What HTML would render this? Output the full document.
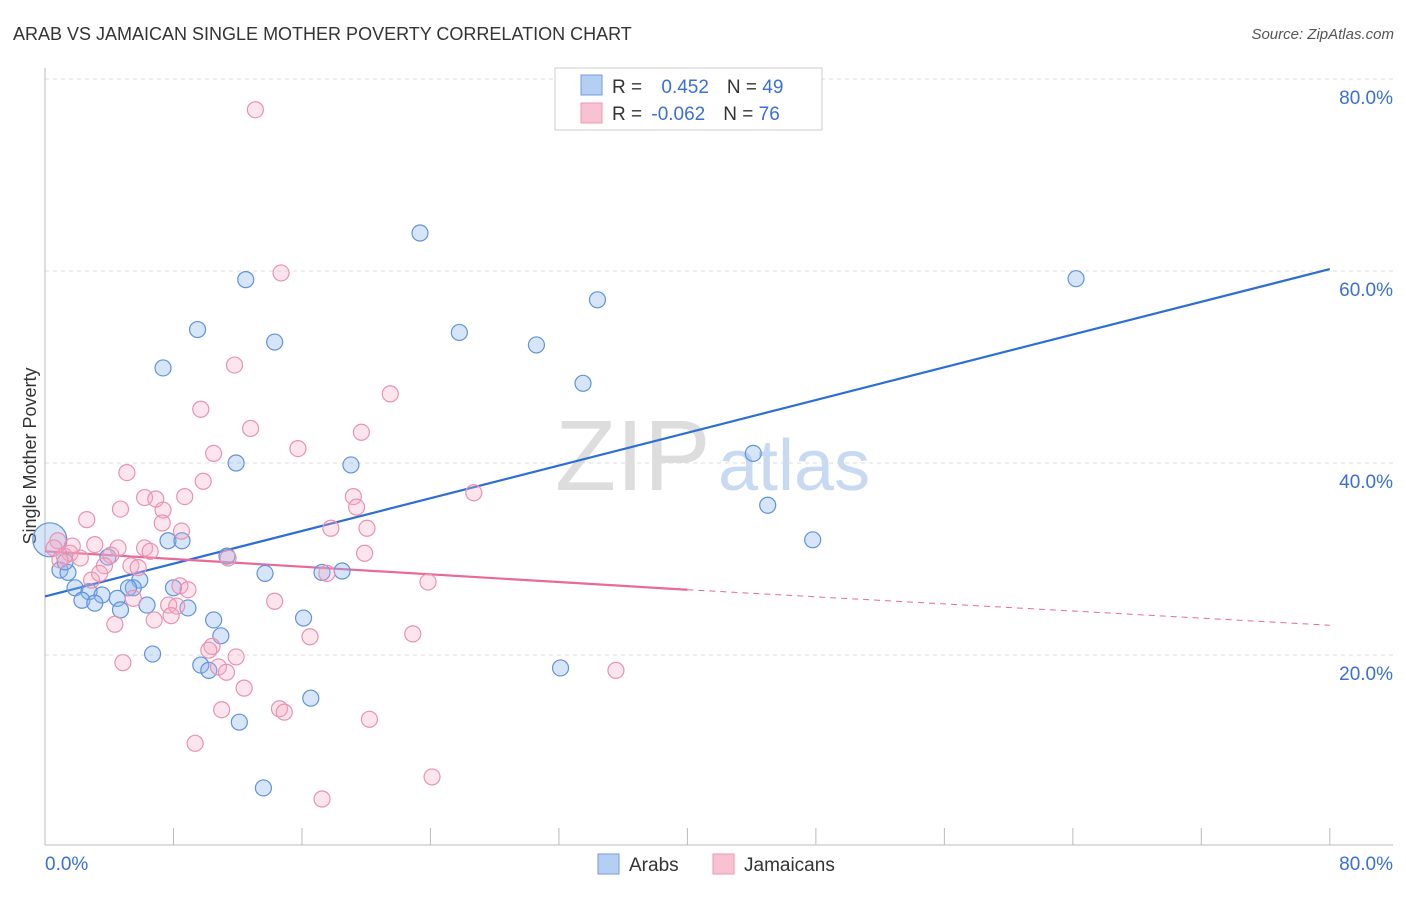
<!DOCTYPE html>
<html><head><meta charset="utf-8"><style>
body{margin:0;background:#fff;font-family:"Liberation Sans",sans-serif}
svg text{font-family:"Liberation Sans",sans-serif}
</style></head><body>
<svg id="chart" width="1406" height="892" xmlns="http://www.w3.org/2000/svg">
<text x="13" y="40" font-size="18" fill="#333">ARAB VS JAMAICAN SINGLE MOTHER POVERTY CORRELATION CHART</text>
<text x="1394" y="39" font-size="15" fill="#555" font-style="italic" text-anchor="end">Source: ZipAtlas.com</text>
<text x="36" y="456" font-size="18" fill="#333" transform="rotate(-90 36 456)" text-anchor="middle">Single Mother Poverty</text>
<g id="grid"></g>
<g id="axes"></g>
<text x="555" y="490" font-size="100" fill="#ddd" font-family="Liberation Serif">ZIP</text>
<text x="718" y="490" font-size="72" fill="#c8daf2">atlas</text>
<g id="trend"></g>
<g id="pts"></g>
<g>
<rect x="555" y="68" width="267" height="62" fill="#fff" stroke="#ccc"/>
<rect x="581" y="75" width="21" height="20" fill="#b5cff3" stroke="#6f9ee0"/>
<rect x="581" y="103" width="21" height="20" fill="#f7c3d3" stroke="#ec97b4"/>
<text x="612" y="93" font-size="19" fill="#333">R = <tspan fill="#3a70d4" dx="14">0.452</tspan><tspan dx="18">N = </tspan><tspan fill="#3a70d4">49</tspan></text>
<text x="612" y="120" font-size="19" fill="#333">R = <tspan fill="#3a70d4" dx="4">-0.062</tspan><tspan dx="18">N = </tspan><tspan fill="#3a70d4">76</tspan></text>
</g>
<g>
<rect x="598" y="854" width="21" height="20" fill="#b5cff3" stroke="#6f9ee0"/>
<text x="629" y="871" font-size="19" fill="#333">Arabs</text>
<rect x="713" y="854" width="21" height="20" fill="#f7c3d3" stroke="#ec97b4"/>
<text x="744" y="871" font-size="19" fill="#333">Jamaicans</text>
</g>
</svg>
<script>
const yTicks=[20,40,60,80];
const yTickLabels=["20.0%","40.0%","60.0%","80.0%"];
const xTickLabels=["0.0%","80.0%"];
const arabX=[23.35,64.2,12.5,34.4,9.5,25.8,14.3,30.6,7.35,33.5,44.1,11.9,19.05,45.0,47.8,7.66,8.53,11.33,3.92,13.7,17.25,18.5,5.9,8.0,5.5,5.2,1.87,2.74,3.55,2.3,3.1,4.5,6.35,8.9,4.7,16.1,10.5,10.95,6.7,32.1,9.7,10.2,16.55,12.1,13.6,0.93,1.43,0.3,1.25];
const arabY=[63.96,59.2,59.1,57.0,53.9,53.6,52.6,52.3,49.9,48.3,41.0,40.0,39.8,35.6,32.0,31.9,31.9,30.3,30.2,28.5,28.6,28.75,27.8,27.0,27.0,27.0,27.0,26.6,26.25,25.7,25.4,25.9,25.2,24.9,24.7,23.85,23.65,22.0,20.1,18.65,18.95,18.4,15.5,13.0,6.15,28.85,28.6,32.0,29.7];
const jamX=[13.1,14.7,11.8,21.5,9.7,12.8,19.7,10.5,15.75,5.1,9.85,26.7,19.2,6.2,8.7,6.9,7.35,4.7,19.4,2.6,7.3,17.8,20.05,8.5,0.8,3.1,4.55,6.2,6.55,0.56,1.56,4.1,2.2,11.4,1.2,19.9,1.7,0.93,5.35,3.7,5.8,17.55,2.9,3.4,8.4,8.9,23.85,5.5,7.7,8.2,14.3,6.8,7.85,4.35,22.9,16.5,10.4,10.2,11.9,10.8,11.3,4.85,35.55,12.4,11.0,14.6,14.9,20.2,9.35,24.1,17.25];
const jamY=[76.8,59.8,50.2,47.2,45.6,43.6,43.2,41.0,41.5,39.0,38.1,36.9,36.5,36.4,36.5,36.25,35.1,35.2,35.4,34.1,33.75,33.2,33.2,32.9,31.9,31.5,31.15,31.15,30.8,31.15,30.6,30.4,30.1,30.1,30.3,30.6,31.35,29.9,29.3,29.3,29.1,28.5,27.8,28.5,27.2,26.8,27.6,25.9,25.2,25.1,25.6,23.65,24.1,23.2,22.2,21.9,20.9,20.5,19.8,18.75,18.2,19.2,18.4,16.55,14.3,14.4,14.05,13.3,10.8,7.3,5.0];
const arabTrend=[26.1,60.2];
const jamTrend=[30.8,26.8,23.1];
const NS="http://www.w3.org/2000/svg";
const X=v=>45+v*16.06, Y=v=>847-v*9.6;
function mk(tag,attrs,parent){const e=document.createElementNS(NS,tag);for(const k in attrs)e.setAttribute(k,attrs[k]);document.getElementById(parent).appendChild(e);return e;}
yTicks.forEach((t,i)=>{
 const l=mk('line',{x1:45,x2:1393,y1:Y(t),y2:Y(t),stroke:'#ddd','stroke-dasharray':'4 4'},'grid');
 
 
 const tx=mk('text',{x:1393,y:Y(t)+25,'font-size':19,fill:'#3a70d4','text-anchor':'end'},'grid');
 tx.textContent=yTickLabels[i];
 
 
});
mk('line',{x1:45,x2:45,y1:68,y2:845,stroke:'#bbb'},'axes');
mk('line',{x1:45,x2:1393,y1:845,y2:845,stroke:'#bbb'},'axes');
for(let i=0;i<=10;i++){const t=mk('line',{x1:X(i*8),x2:X(i*8),y1:828,y2:845,stroke:'#bbb'},'axes');}
const xl0=mk('text',{x:45,y:870,'font-size':19,fill:'#3a70d4'},'axes');xl0.textContent=xTickLabels[0];


const xl1=mk('text',{x:1393,y:870,'font-size':19,fill:'#3a70d4','text-anchor':'end'},'axes');xl1.textContent=xTickLabels[1];


arabX.forEach((x,i)=>{const r=(i==47)?17:8;const c=mk('circle',{cx:X(x),cy:Y(arabY[i]),r:r,fill:'rgba(140,180,235,0.35)',stroke:'#5f93dc','stroke-width':1.2},'pts');
 
 });
jamX.forEach((x,i)=>{const c=mk('circle',{cx:X(x),cy:Y(jamY[i]),r:8,fill:'rgba(245,170,195,0.3)',stroke:'#ea92b1','stroke-width':1.2},'pts');
 
 });
const bl=mk('line',{x1:X(0),y1:Y(arabTrend[0]),x2:X(80),y2:Y(arabTrend[1]),stroke:'#2b6fd6','stroke-width':2.2},'trend');


const pl=mk('line',{x1:X(0),y1:Y(jamTrend[0]),x2:X(40),y2:Y(jamTrend[1]),stroke:'#e86a98','stroke-width':2.2},'trend');


const pd=mk('line',{x1:X(40),y1:Y(jamTrend[1]),x2:X(80),y2:Y(jamTrend[2]),stroke:'#e86a98','stroke-width':1,'stroke-dasharray':'6 5'},'trend');


</script>
</body></html>
